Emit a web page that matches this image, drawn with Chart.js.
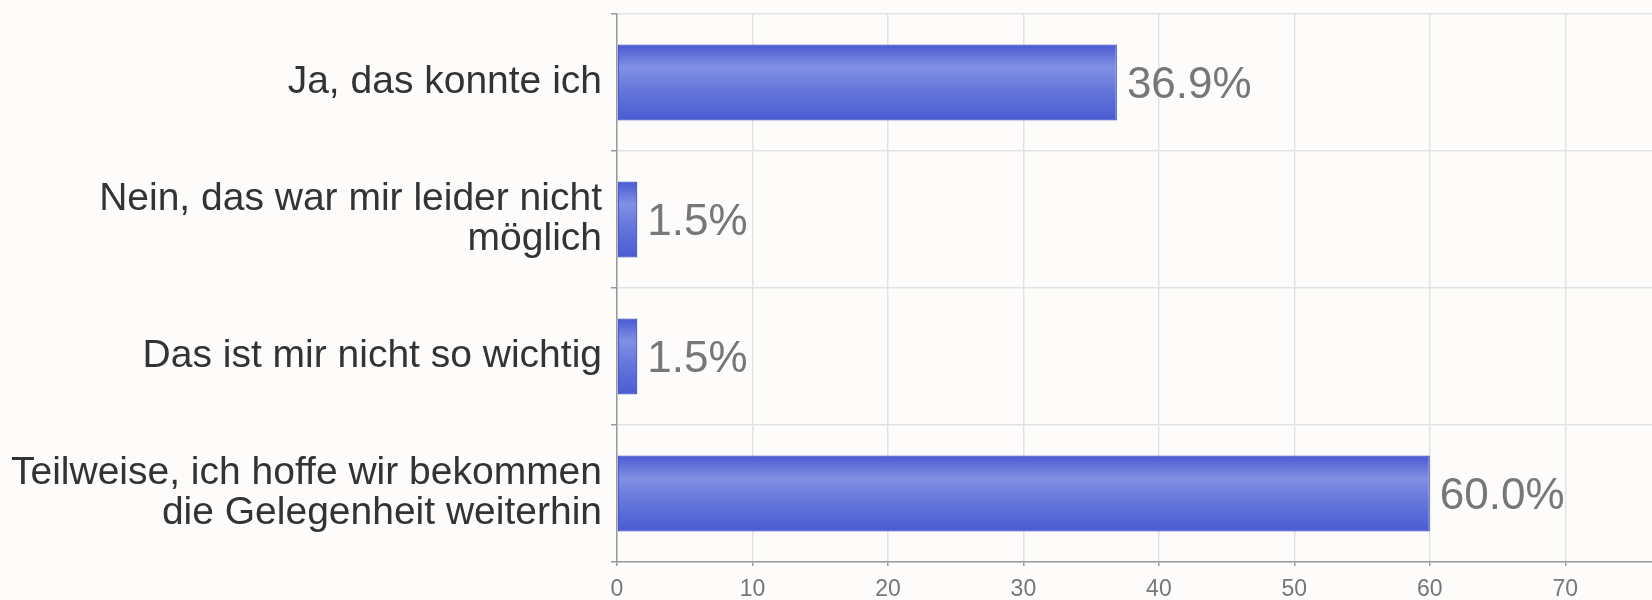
<!DOCTYPE html>
<html>
<head>
<meta charset="utf-8">
<script src="https://cdn.jsdelivr.net/npm/chart.js@4/dist/chart.umd.min.js"></script>
<style>
    html, body { margin: 0; padding: 0; background: #fdfcfb; }
    #wrap { width: 1652px; height: 600px; }
</style>
</head>
<body>
<div id="wrap"><canvas id="chart" width="1652" height="600"></canvas></div>
<script>
(function () {
    "use strict";

    // Data
    const categories = [
        "Ja, das konnte ich",
        ["Nein, das war mir leider nicht", "möglich"],
        "Das ist mir nicht so wichtig",
        ["Teilweise, ich hoffe wir bekommen", "die Gelegenheit weiterhin"],
    ];
    const shares = [36.9, 1.5, 1.5, 60.0];
    const axisMax = 76.4;
    const tickStep = 10;

    const fontFamily = "'Liberation Sans', Arial, sans-serif";
    const barPct = 0.555;

    // Per-bar vertical gradient, built from the category scale
    function barGradient(c) {
        const chart = c.chart;
        const y = chart.scales.y;
        if (!chart.chartArea || !y || c.dataIndex === undefined) {
            return "#6374da";
        }
        const center = y.getPixelForValue(c.dataIndex);
        const half = Math.abs(y.getPixelForValue(1) - y.getPixelForValue(0)) * barPct / 2;
        const g = chart.ctx.createLinearGradient(0, center - half, 0, center + half);
        g.addColorStop(0, "#4a5ad2");
        g.addColorStop(0.3, "#8190e4");
        g.addColorStop(0.62, "#6374da");
        g.addColorStop(1, "#4b5cd4");
        return g;
    }

    // Value labels at bar ends
    const valueLabels = {
        id: "valueLabels",
        afterDatasetsDraw(chart) {
            const ctx = chart.ctx;
            const meta = chart.getDatasetMeta(0);
            ctx.save();
            ctx.font = "44px " + fontFamily;
            ctx.fillStyle = "#777777";
            ctx.textAlign = "left";
            ctx.textBaseline = "middle";
            meta.data.forEach((bar, i) => {
                ctx.fillText(shares[i].toFixed(1) + "%", bar.x + 10, bar.y + 3);
            });
            ctx.restore();
        },
    };

    const ctx = document.getElementById("chart").getContext("2d");
    new Chart(ctx, {
        type: "bar",
        data: {
            labels: categories,
            datasets: [
                {
                    data: shares,
                    backgroundColor: barGradient,
                    borderColor: "#3f4fc6",
                    borderWidth: 1.2,
                    borderSkipped: false,
                    barPercentage: barPct,
                    categoryPercentage: 1,
                },
            ],
        },
        options: {
            indexAxis: "y",
            responsive: false,
            animation: false,
            layout: {
                padding: { top: 14, left: 0, right: 0, bottom: 0 },
            },
            plugins: {
                legend: { display: false },
                tooltip: { enabled: false },
            },
            scales: {
                x: {
                    min: 0,
                    max: axisMax,
                    ticks: {
                        stepSize: tickStep,
                        includeBounds: false,
                        color: "#777777",
                        font: { family: fontFamily, size: 23 },
                        padding: 10,
                    },
                    grid: {
                        color: "#e3e3e3",
                        tickColor: "#9a9a9a",
                        tickLength: 4,
                        lineWidth: 1.5,
                    },
                    border: {
                        color: "#9a9a9a",
                        width: 1.5,
                    },
                    afterFit(scale) {
                        scale.height = 38;
                        scale.paddingLeft = 0;
                        scale.paddingRight = 0;
                    },
                },
                y: {
                    ticks: {
                        color: "#333333",
                        font: { family: fontFamily, size: 39, lineHeight: 1.03 },
                        padding: 9,
                    },
                    grid: {
                        offset: true,
                        color: "#e3e3e3",
                        tickColor: "#9a9a9a",
                        tickLength: 6,
                        lineWidth: 1.5,
                    },
                    border: {
                        color: "#9a9a9a",
                        width: 1.5,
                    },
                    afterFit(scale) {
                        scale.width = 617;
                        scale.paddingTop = 0;
                        scale.paddingBottom = 0;
                    },
                },
            },
        },
        plugins: [valueLabels],
    });
})();
</script>
</body>
</html>
